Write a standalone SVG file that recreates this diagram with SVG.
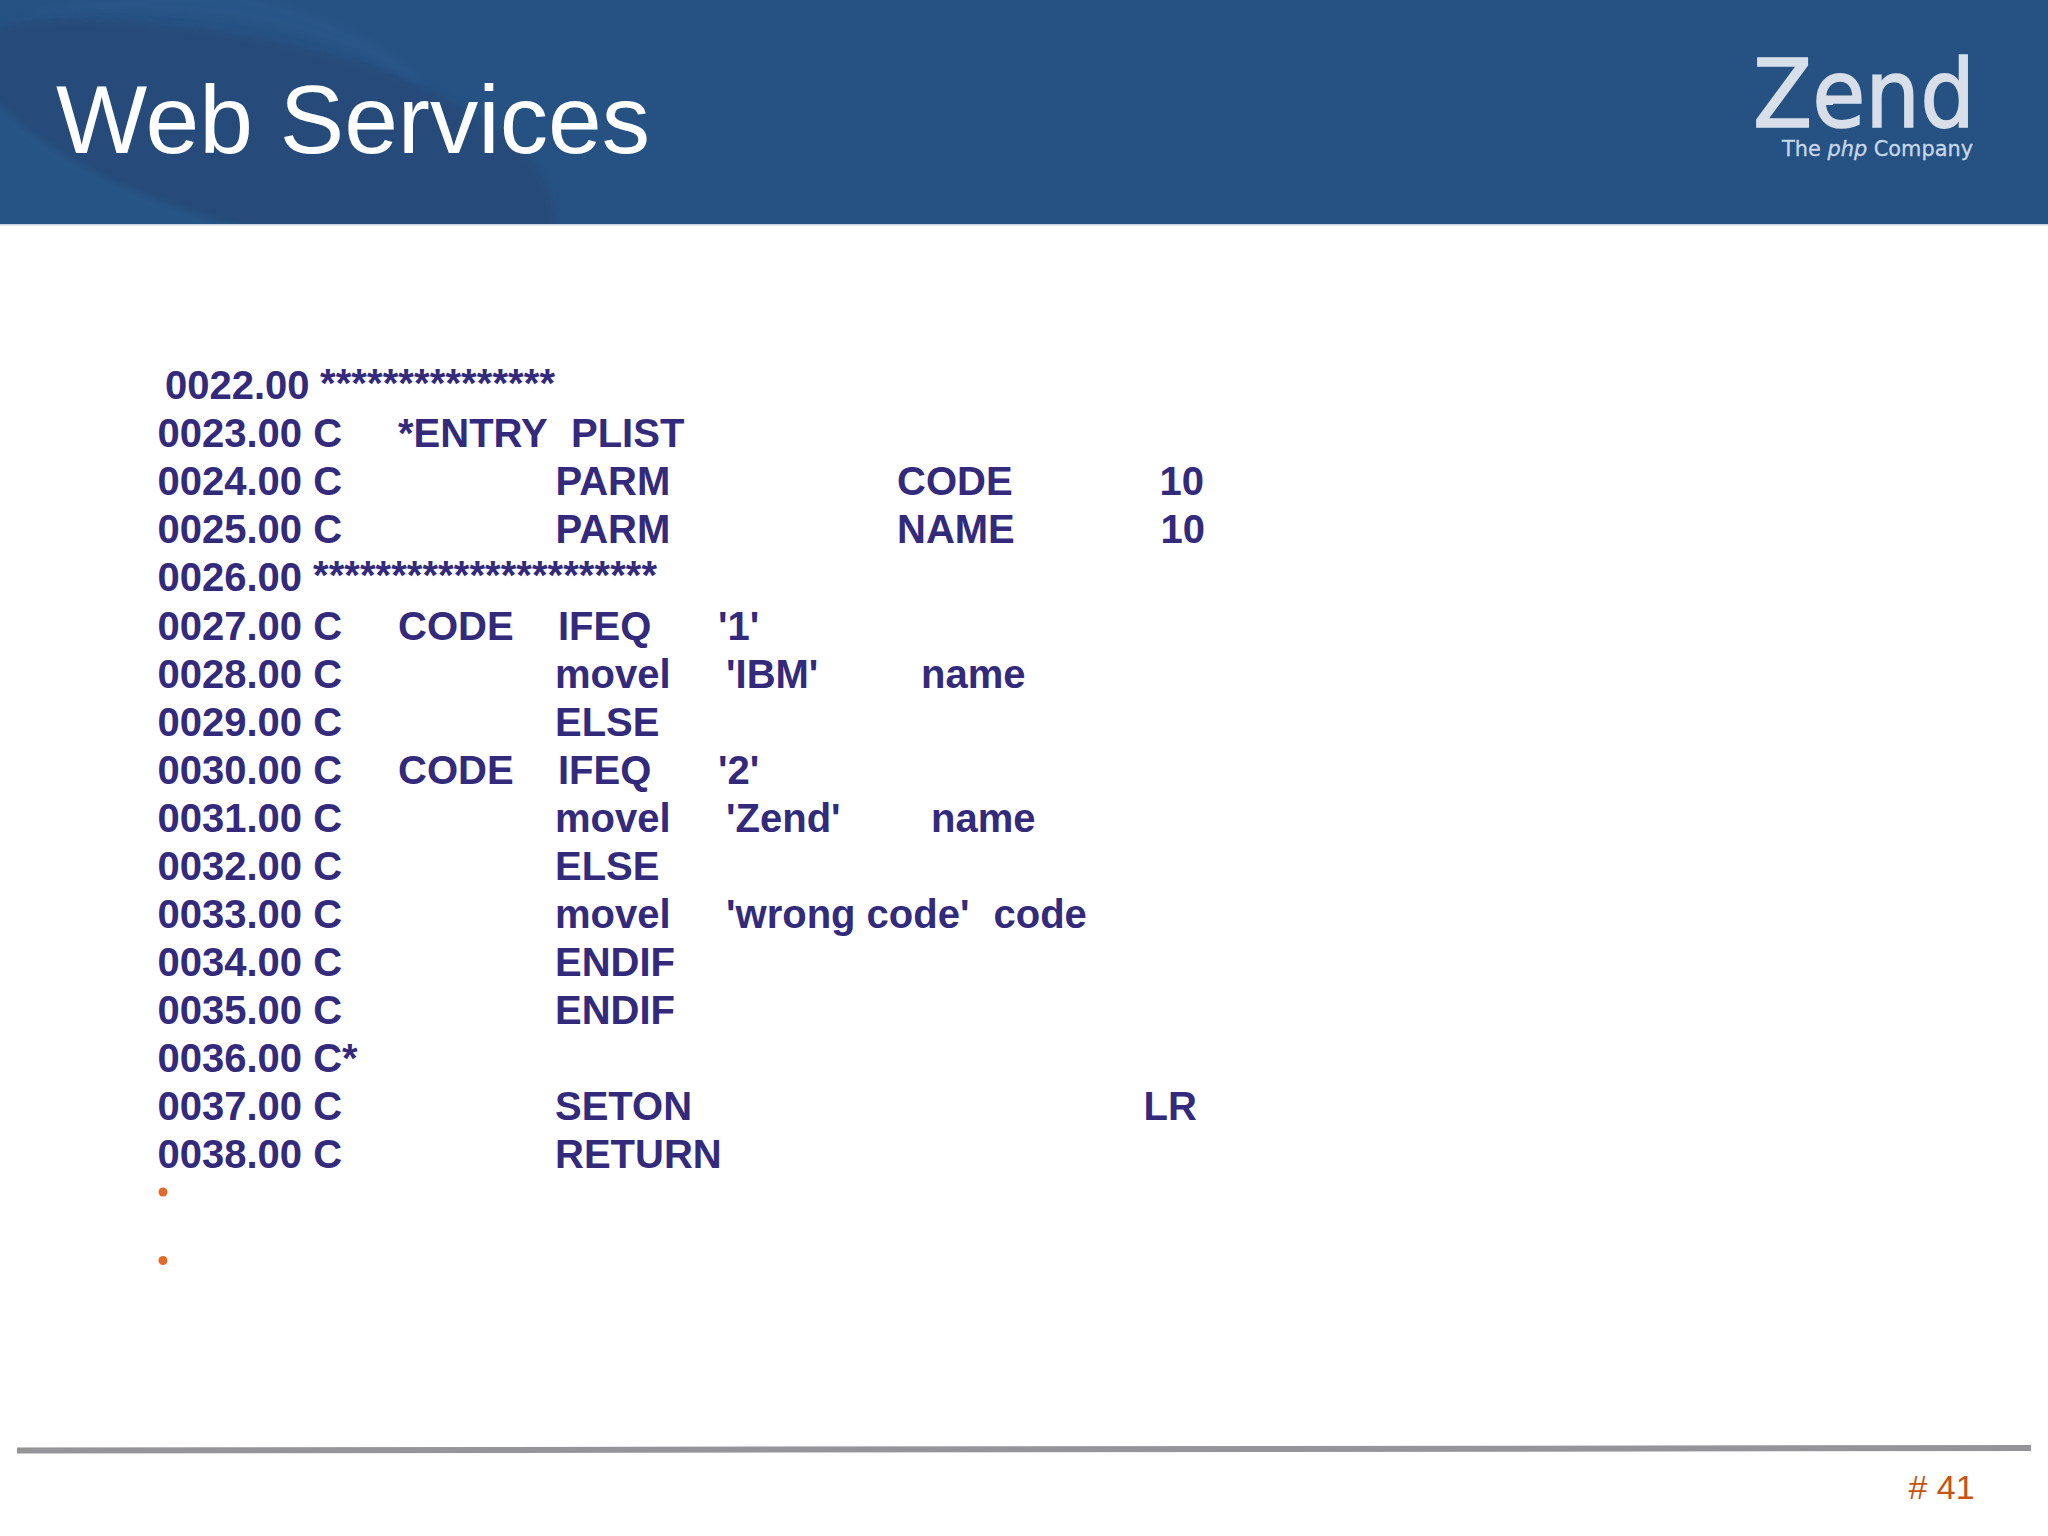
<svg xmlns="http://www.w3.org/2000/svg" width="2048" height="1536" viewBox="0 0 2048 1536">
<style>
.c{font:bold 40px "Liberation Sans",Arial,sans-serif;fill:#332a7c}
</style>
<defs><filter id="soft" x="-10%" y="-10%" width="120%" height="120%"><feGaussianBlur stdDeviation="3"/></filter><clipPath id="hc"><rect width="2048" height="224"/></clipPath></defs>
<rect width="2048" height="1536" fill="#fff"/>
<g id="header">
<rect width="2048" height="224" fill="#265283"/>
<g clip-path="url(#hc)">
<path d="M-10 240V30C20 18 80 14 200 28C300 42 380 65 430 90C490 120 530 150 545 180C552 195 556 210 560 240Z" fill="#254c7a" filter="url(#soft)"/>
<path d="M240 -6C330 14 400 50 432 92C380 58 310 30 230 18C150 8 60 10 20 18C60 2 120 -6 240 -6Z" fill="#29588a" opacity=".6" filter="url(#soft)"/>
<path d="M-10 95C60 170 170 212 290 240H-10Z" fill="#275485" filter="url(#soft)"/>
</g>
<rect y="224" width="2048" height="1.5" fill="#c9d3e4"/>
<text x="56" y="153" font-family="Liberation Sans, Arial, sans-serif" font-size="96.6" fill="#fff">Web Services</text>
</g>
<g id="logo">
<text x="1753" y="127" font-family="DejaVu Sans, sans-serif" font-size="94" fill="#d8dfe8" stroke="#d8dfe8" stroke-width="1.6" textLength="222" lengthAdjust="spacingAndGlyphs">Zend</text>
<rect x="1817" y="99" width="16" height="6" fill="#d8dfe8"/>
<text x="1782" y="156" font-family="DejaVu Sans, sans-serif" font-size="22" fill="#c9d8e8" stroke="#c9d8e8" stroke-width=".3" textLength="191" lengthAdjust="spacingAndGlyphs">The <tspan font-style="italic">php</tspan> Company</text>
</g>
<g id="code">
<text class="c" x="165" y="399">0022.00</text><text class="c" x="320" y="397" textLength="235">***************</text>
<text class="c" x="157.5" y="447">0023.00 C</text><text class="c" x="398" y="447">*ENTRY</text><text class="c" x="571" y="447">PLIST</text>
<text class="c" x="157.5" y="495">0024.00 C</text><text class="c" x="555.5" y="495">PARM</text><text class="c" x="897" y="495">CODE</text><text class="c" x="1159.5" y="495">10</text>
<text class="c" x="157.5" y="543">0025.00 C</text><text class="c" x="555.5" y="543">PARM</text><text class="c" x="897" y="543">NAME</text><text class="c" x="1160.5" y="543">10</text>
<text class="c" x="157.5" y="591">0026.00</text><text class="c" x="313" y="589" textLength="344">**********************</text>
<text class="c" x="157.5" y="639.5">0027.00 C</text><text class="c" x="398" y="639.5">CODE</text><text class="c" x="558" y="639.5">IFEQ</text><text class="c" x="718" y="639.5">'1'</text>
<text class="c" x="157.5" y="688">0028.00 C</text><text class="c" x="555" y="688">movel</text><text class="c" x="726" y="688">'IBM'</text><text class="c" x="921" y="688">name</text>
<text class="c" x="157.5" y="735.5">0029.00 C</text><text class="c" x="555" y="735.5">ELSE</text>
<text class="c" x="157.5" y="783.5">0030.00 C</text><text class="c" x="398" y="783.5">CODE</text><text class="c" x="558" y="783.5">IFEQ</text><text class="c" x="718" y="783.5">'2'</text>
<text class="c" x="157.5" y="832">0031.00 C</text><text class="c" x="555" y="832">movel</text><text class="c" x="726" y="832">'Zend'</text><text class="c" x="931" y="832">name</text>
<text class="c" x="157.5" y="880">0032.00 C</text><text class="c" x="555" y="880">ELSE</text>
<text class="c" x="157.5" y="928">0033.00 C</text><text class="c" x="555" y="928">movel</text><text class="c" x="726" y="928">'wrong code'</text><text class="c" x="993.5" y="928">code</text>
<text class="c" x="157.5" y="976">0034.00 C</text><text class="c" x="555" y="976">ENDIF</text>
<text class="c" x="157.5" y="1024">0035.00 C</text><text class="c" x="555" y="1024">ENDIF</text>
<text class="c" x="157.5" y="1072">0036.00 C*</text>
<text class="c" x="157.5" y="1120">0037.00 C</text><text class="c" x="555" y="1120">SETON</text><text class="c" x="1143.5" y="1120">LR</text>
<text class="c" x="157.5" y="1168">0038.00 C</text><text class="c" x="555" y="1168">RETURN</text>
</g>
<g id="bullets" fill="#e06a2c"><circle cx="163" cy="1192" r="4.5"/><circle cx="163" cy="1260.5" r="4.5"/></g>
<g id="footer">
<path d="M17 1450.5L2031 1448" stroke="#949499" stroke-width="6" fill="none"/>
<text x="1908.5" y="1499" font-family="Liberation Sans, Arial, sans-serif" font-size="34" fill="#c55410">#&#160;41</text>
</g>
</svg>
